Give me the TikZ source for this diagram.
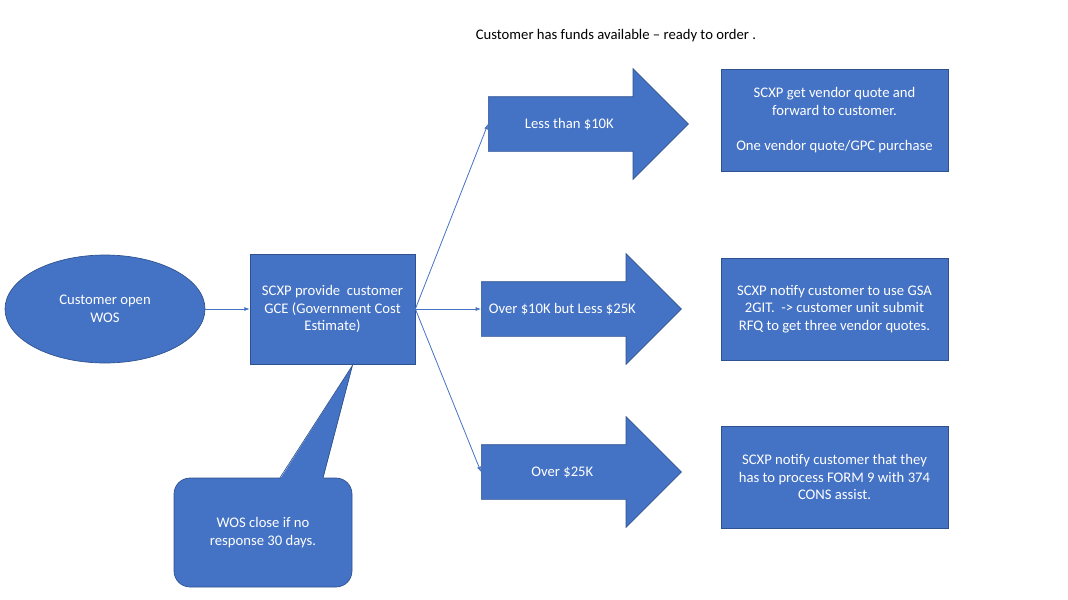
\documentclass[tikz,border=0pt]{standalone}
\usepackage{fontspec}
\setmainfont{Carlito}
\usetikzlibrary{arrows.meta,positioning,shapes.geometric,shapes.arrows,calc}
\definecolor{boxblue}{HTML}{4472C4}
\definecolor{edgeblue}{HTML}{2F528F}

\begin{document}
\begin{tikzpicture}[
  x=0.75pt, y=-0.75pt,
  font=\fontsize{11pt}{13.2pt}\selectfont,
  box/.style={draw=edgeblue, line width=0.5pt, fill=boxblue, text=white, align=center, inner sep=0pt},
  bigarr/.style={single arrow, draw=edgeblue, line width=0.5pt, fill=boxblue, text=white,
    single arrow head extend=21pt, single arrow tip angle=90,
    text height=9pt, text depth=2pt, inner xsep=0pt, inner ysep=14.75pt,
    minimum width=82.5pt, minimum height=150pt, anchor=tail,
    execute at begin node=\hspace*{-8pt}},
  arr/.style={-{Latex[length=4pt,width=3pt]}, draw=boxblue, line width=0.6pt}
]
\useasboundingbox (0,0) rectangle (1068,600);

\node (title) at (616,36) {Customer has funds available -- ready to order .};

\node[box, ellipse, minimum width=150pt, minimum height=81pt] (wos) at (105,309) {Customer open\\WOS};
\node[box, minimum width=123.75pt, minimum height=82.5pt] (gce) at (332.5,309) {SCXP provide\ \ customer\\GCE (Government Cost\\Estimate)};

% price ranges
\node[bigarr] (lt) at (488,124) {Less than \$10K};
\node[bigarr] (mid) at (481,309) {Over \$10K but Less \$25K};
\node[bigarr] (gt) at (481,472) {Over \$25K};

% what happens next
\node[box, minimum width=170.25pt, minimum height=76.5pt] (quote) at (834.5,120) {SCXP get vendor quote and\\forward to customer.\\[13.2pt]One vendor quote/GPC purchase};
\node[box, minimum width=170.25pt, minimum height=76.5pt] (gsa) at (834.5,309) {SCXP notify customer to use GSA\\2GIT.\ \ -> customer unit submit\\RFQ to get three vendor quotes.};
\node[box, minimum width=170.25pt, minimum height=76.5pt] (form) at (834.5,477) {SCXP notify customer that they\\has to process FORM 9 with 374\\CONS assist.};

% callout
\node[box, rounded corners=12pt, minimum width=133.5pt, minimum height=81.75pt] (close) at (263,532.5) {WOS close if no\\response 30 days.};
\coordinate (ptr) at ($(gce.south)+(20,1)$);
\fill[boxblue] ($(close.north)+(17,1.5)$) -- (ptr) -- ($(close.north)+(60,1.5)$) -- cycle;
\draw[edgeblue, line width=0.5pt] ($(close.north)+(17,0)$) -- (ptr) -- ($(close.north)+(60,0)$);

\draw[arr] (wos) -- (gce);
\draw[arr] (gce.east) -- (lt.tail);
\draw[arr] (gce.east) -- (mid.tail);
\draw[arr] (gce.east) -- (gt.tail);
\end{tikzpicture}
\end{document}
